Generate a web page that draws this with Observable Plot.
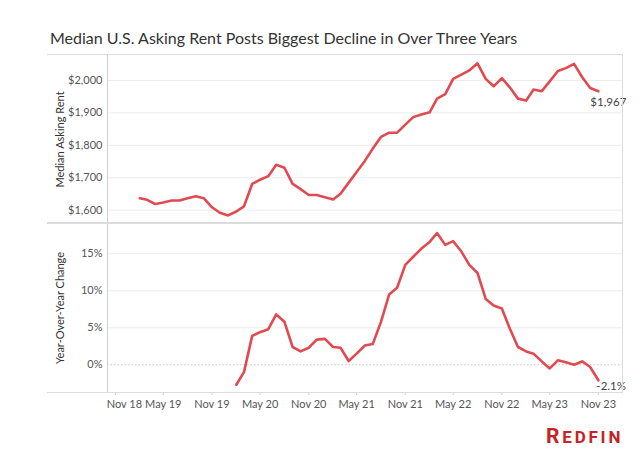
<!DOCTYPE html>
<html>
<head>
<meta charset="utf-8">
<script src="https://cdn.jsdelivr.net/npm/d3@7"></script>
<script src="https://cdn.jsdelivr.net/npm/@observablehq/plot@0.6"></script>
<style>
  html, body { margin: 0; padding: 0; background: #fff; }
  #chart { position: relative; width: 640px; height: 457px; font-family: Lato, "Open Sans", sans-serif; overflow: hidden; }
  #title { position: absolute; left: 50px; top: 28px; font-size: 16px; color: #333; white-space: nowrap; }
  .plot-slot { position: absolute; left: 0; }
  #frame { position: absolute; left: 47px; top: 54px; width: 575px; height: 337px; border-top: 1.5px solid #dcdcdc; border-right: 1px solid #dcdcdc; border-bottom: 1.5px solid #dcdcdc; pointer-events: none; }
  #sep { position: absolute; left: 47px; top: 222px; width: 576px; height: 0; border-top: 2px solid #dcdcdc; pointer-events: none; }
  #logo { position: absolute; left: 546px; top: 424px; color: #c82126; font-family: Roboto, "Open Sans", sans-serif; font-weight: 700; white-space: nowrap; letter-spacing: 2.8px; }
  #logo .big { font-size: 21px; }
  #logo .small { font-size: 17px; }
</style>
</head>
<body>
<div id="chart">
  <div id="title">Median U.S. Asking Rent Posts Biggest Decline in Over Three Years</div>
  <div class="plot-slot" id="topPanel" style="top:45px"></div>
  <div class="plot-slot" id="bottomPanel" style="top:223px"></div>
  <div id="frame"></div>
  <div id="sep"></div>
  <div id="logo"><span class="big">R</span><span class="small">EDFIN</span></div>
</div>
<script>
// ---- data (monthly, Feb 2019 – Nov 2023) ----
const startMonth = "2019-02";
const rent = [1637,1632,1619,1624,1630,1630,1637,1643,1637,1609,1592,1584,
              1596,1612,1681,1694,1705,1740,1731,1681,1665,1647,1647,1640,
              1633,1651,1685,1718,1752,1790,1826,1839,1839,1864,1887,1895,
              1902,1944,1958,2005,2018,2031,2053,2005,1982,2007,1979,1944,
              1938,1972,1967,1997,2029,2038,2051,2010,1977,1967];
// year-over-year change (%), Feb 2020 – Nov 2023
const yoyStartMonth = "2020-02";
const yoy = [-2.7,-1.0,3.9,4.4,4.8,6.8,5.8,2.4,1.8,2.3,3.4,3.5,
             2.4,2.3,0.5,1.5,2.6,2.8,5.8,9.5,10.4,13.5,14.6,15.7,
             16.6,17.8,16.2,16.7,15.3,13.5,12.4,8.9,8.0,7.6,4.9,2.4,
             1.8,1.5,0.45,-0.5,0.6,0.35,0.0,0.45,-0.3,-2.1];
const rentTicks = [1600, 1700, 1800, 1900, 2000];
const yoyTicks = [0, 5, 10, 15];
const xTickMonths = ["2018-11","2019-05","2019-11","2020-05","2020-11","2021-05",
                     "2021-11","2022-05","2022-11","2023-05","2023-11"];
const rentAxisTitle = "Median Asking Rent";
const yoyAxisTitle = "Year-Over-Year Change";
const lastRentLabel = "$1,967";
const lastYoyLabel = "-2.1%";

// ---- build tables ----
const parseM = d3.utcParse("%Y-%m");
const fmtM = d3.utcFormat("%b %y");
const monthSeq = (start, n) => d3.utcMonth.range(parseM(start), d3.utcMonth.offset(parseM(start), n));
const rentData = monthSeq(startMonth, rent.length).map((date, i) => ({date, value: rent[i]}));
const yoyData = monthSeq(yoyStartMonth, yoy.length).map((date, i) => ({date, value: yoy[i]}));
const xTicks = xTickMonths.map(parseM);
const xDomain = [new Date(Date.UTC(2018, 9, 2)), new Date(Date.UTC(2024, 1, 4))];

const FONT = "Lato, 'Open Sans', sans-serif";
const RED = "#e04a50";
const common = {
  width: 640, marginLeft: 107, marginRight: 17,
  style: {background: "transparent", fontFamily: FONT, fontSize: "11px", color: "#555", overflow: "visible"}
};
const axisTitle = (t) => Plot.text([t], {frameAnchor: "left", rotate: -90, dx: -47, text: d => d,
  fill: "#333", fontSize: 11, textAnchor: "middle"});

const rentPlot = Plot.plot({
  ...common,
  height: 178, marginTop: 10, marginBottom: 0,
  x: {type: "utc", domain: xDomain, axis: null},
  y: {domain: [1559, 2077], axis: null},
  marks: [
    Plot.gridY(rentTicks, {stroke: "#ececec", strokeOpacity: 1}),
    Plot.axisY(rentTicks, {tickSize: 0, tickPadding: 5, tickFormat: d => "$" + d3.format(",")(d),
      label: null, fill: "#555"}),
    axisTitle(rentAxisTitle),
    Plot.frame({anchor: "left", stroke: "#cfcfcf"}),
    Plot.line(rentData, {x: "date", y: "value", stroke: RED, strokeWidth: 2.6}),
    Plot.text(rentData.slice(-1), {x: "date", y: "value", text: () => lastRentLabel, dx: -8, dy: 11,
      textAnchor: "start", fill: "#444", fontSize: 11.5})
  ]
});
document.getElementById("topPanel").append(rentPlot);

const yoyPlot = Plot.plot({
  ...common,
  height: 200, marginTop: 0, marginBottom: 31,
  x: {type: "utc", domain: xDomain, axis: null},
  y: {domain: [-3.75, 19.09], axis: null},
  marks: [
    Plot.gridY(yoyTicks.filter(d => d !== 0), {stroke: "#ececec", strokeOpacity: 1}),
    Plot.ruleY([0], {stroke: "#c8c8c8", strokeDasharray: "1.5,2"}),
    Plot.axisY(yoyTicks, {tickSize: 0, tickPadding: 5, tickFormat: d => d + "%", label: null, fill: "#555"}),
    axisTitle(yoyAxisTitle),
    Plot.frame({anchor: "left", stroke: "#cfcfcf"}),
    Plot.axisX(xTicks, {tickSize: 3, tickFormat: () => "", stroke: "#d0d0d0", label: null}),
    Plot.axisX(xTicks.slice(1), {tickSize: 0, tickPadding: 8, tickFormat: fmtM, fill: "#555", label: null}),
    Plot.axisX(xTicks.slice(0, 1), {tickSize: 0, tickPadding: 8, dx: 9, tickFormat: fmtM, fill: "#555", label: null}),
    Plot.line(yoyData, {x: "date", y: "value", stroke: RED, strokeWidth: 2.6}),
    Plot.text(yoyData.slice(-1), {x: "date", y: "value", text: () => lastYoyLabel, dx: -2, dy: 6,
      textAnchor: "start", fill: "#444", fontSize: 11.5, stroke: "white", strokeWidth: 3, paintOrder: "stroke"})
  ]
});
document.getElementById("bottomPanel").append(yoyPlot);
</script>
</body>
</html>
